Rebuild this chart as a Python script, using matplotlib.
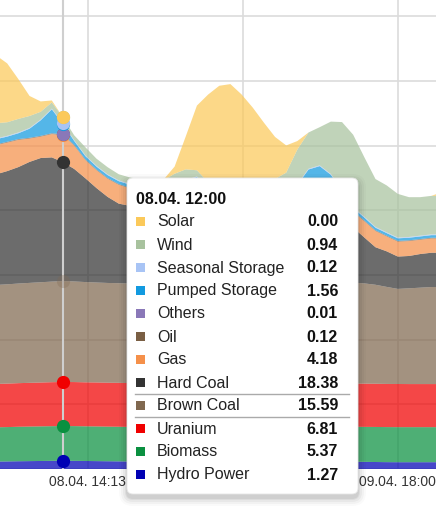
import numpy as np
import matplotlib
matplotlib.use('Agg')
from matplotlib import pyplot as plt
from matplotlib.patches import FancyBboxPatch, Rectangle

plt.rcParams['font.family'] = ['Liberation Sans', 'DejaVu Sans']

# hours counted from 08.04. 00:00, hourly values
hours = np.arange(6, 47)

hydro = [1.15, 1.17, 1.20, 1.22, 1.24, 1.26, 1.27, 1.26, 1.24, 1.22, 1.20, 1.18, 1.16, 1.14,
         1.12, 1.10, 1.08, 1.07, 1.06, 1.05, 1.05, 1.05, 1.06, 1.07, 1.08, 1.10, 1.12, 1.13,
         1.14, 1.15, 1.15, 1.14, 1.12, 1.10, 1.08, 1.06, 1.05, 1.05, 1.05, 1.05, 1.05]
biomass = [5.30, 5.31, 5.33, 5.34, 5.35, 5.36, 5.37, 5.37, 5.36, 5.36, 5.35, 5.35, 5.34, 5.34,
           5.33, 5.33, 5.32, 5.32, 5.32, 5.33, 5.34, 5.35, 5.36, 5.37, 5.38, 5.38, 5.39, 5.39,
           5.40, 5.40, 5.40, 5.40, 5.41, 5.41, 5.42, 5.42, 5.42, 5.42, 5.42, 5.42, 5.42]
uranium = [6.70, 6.72, 6.74, 6.76, 6.78, 6.80, 6.81, 6.81, 6.80, 6.80, 6.79, 6.79, 6.78, 6.78,
           6.77, 6.77, 6.76, 6.76, 6.75, 6.75, 6.74, 6.74, 6.73, 6.73, 6.72, 6.72, 6.71, 6.71,
           6.70, 6.70, 6.70, 6.69, 6.69, 6.68, 6.68, 6.67, 6.67, 6.66, 6.66, 6.66, 6.66]
brown_coal = [15.30, 15.35, 15.40, 15.45, 15.50, 15.55, 15.59, 15.55, 15.50, 15.45, 15.42, 15.40,
              15.40, 15.42, 15.45, 15.48, 15.50, 15.52, 15.55, 15.55, 15.56, 15.56, 15.55, 15.55,
              15.56, 15.58, 15.60, 15.62, 15.63, 15.64, 15.65, 15.65, 15.60, 15.50, 15.30, 15.00,
              14.70, 14.80, 14.90, 15.00, 15.00]
hard_coal = [17.1, 17.5, 18.0, 18.7, 19.2, 19.2, 18.38, 17.4, 16.05, 14.6, 13.3, 12.3, 12.0, 11.8,
             11.5, 11.3, 11.2, 11.0, 10.9, 10.8, 10.6, 10.5, 10.4, 10.3, 10.2, 10.1, 10.0, 9.9,
             9.8, 9.6, 9.3, 8.8, 8.5, 7.1, 5.8, 5.5, 5.0, 5.0, 5.2, 5.3, 5.3]
gas = [4.5, 4.4, 4.2, 3.6, 3.3, 3.6, 4.18, 3.6, 2.8, 2.75, 2.8, 2.9, 2.7, 2.5, 2.4, 2.45, 2.5,
       2.55, 2.6, 2.6, 2.55, 2.5, 2.5, 2.45, 2.4, 2.45, 2.5, 2.55, 2.6, 2.6, 2.55, 2.5, 2.4, 2.5,
       2.5, 2.3, 2.3, 2.3, 2.2, 2.2, 2.2]
oil = [0.12, 0.12, 0.12, 0.12, 0.12, 0.12, 0.12, 0.12, 0.12, 0.11, 0.11, 0.11, 0.11, 0.11,
       0.11, 0.11, 0.11, 0.12, 0.12, 0.12, 0.12, 0.12, 0.12, 0.12, 0.12, 0.12, 0.12, 0.12,
       0.12, 0.12, 0.12, 0.12, 0.12, 0.12, 0.11, 0.11, 0.11, 0.11, 0.11, 0.11, 0.11]
others = [0.01, 0.01, 0.01, 0.01, 0.01, 0.01, 0.01, 0.01, 0.01, 0.01, 0.01, 0.01, 0.01, 0.01,
          0.01, 0.01, 0.01, 0.01, 0.01, 0.01, 0.01, 0.01, 0.01, 0.01, 0.01, 0.01, 0.01, 0.01,
          0.01, 0.01, 0.01, 0.01, 0.01, 0.01, 0.01, 0.01, 0.01, 0.01, 0.01, 0.01, 0.01]
pumped = [0.8, 0.8, 0.9, 1.4, 2.4, 3.7, 1.56, 0.6, 0.5, 0.45, 0.45, 0.45, 0.45, 0.5, 0.6, 0.8,
          1.2, 2.2, 2.8, 1.0, 0.5, 0.45, 0.45, 0.45, 0.5, 0.6, 1.0, 2.5, 4.9, 5.6, 4.6, 2.7, 0.5,
          0.45, 0.4, 0.4, 0.4, 0.4, 0.4, 0.4, 0.4]
seasonal = [0.12, 0.12, 0.12, 0.12, 0.12, 0.12, 0.12, 0.12, 0.12, 0.12, 0.12, 0.12, 0.12, 0.12,
            0.12, 0.12, 0.12, 0.12, 0.12, 0.12, 0.12, 0.12, 0.12, 0.12, 0.12, 0.12, 0.12, 0.12,
            0.12, 0.12, 0.12, 0.12, 0.12, 0.12, 0.12, 0.12, 0.12, 0.12, 0.12, 0.12, 0.12]
wind = [2.35, 2.1, 2.1, 1.85, 1.2, 0.95, 0.94, 0.75, 1.25, 1.1, 1.1, 0.95, 1.0, 1.05, 1.1, 1.15,
        1.85, 1.65, 0.95, 1.0, 1.2, 1.4, 1.6, 1.9, 2.25, 2.65, 3.25, 5.35, 5.6, 5.9, 8.1, 10.5,
        11.2, 9.2, 7.4, 7.25, 6.75, 6.15, 5.95, 5.95, 5.95]
solar = [10.5, 9.1, 6.15, 3.1, 1.6, 0.3, 0.0, 0.0, 0.0, 0.0, 0.0, 0.0, 0.0, 0.0, 0.0, 0.1, 1.1,
         5.1, 10.0, 13.55, 15.45, 15.7, 14.0, 11.8, 9.2, 6.5, 4.2, 1.3, 0.0, 0.0, 0.0, 0.0, 0.0,
         0.0, 0.0, 0.0, 0.0, 0.0, 0.0, 0.0, 0.6]

names = ['Hydro Power', 'Biomass', 'Uranium', 'Brown Coal', 'Hard Coal', 'Gas', 'Oil',
         'Others', 'Pumped Storage', 'Seasonal Storage', 'Wind', 'Solar']
series = [hydro, biomass, uranium, brown_coal, hard_coal, gas, oil, others, pumped,
          seasonal, wind, solar]
colors = ['#0000b4', '#0a9040', '#f00000', '#80684f', '#333333', '#f5904a', '#7a5f44',
          '#8a78b8', '#129ae0', '#a8c4f5', '#a8c29e', '#fbc95a']

tick_pos = [14 + 13 / 60, 28 + 7 / 60, 42]
tick_labels = ['08.04. 14:13', '', '09.04. 18:00']

hover_hour = 12
hover_title = '08.04. 12:00'

W, H = 436, 531
fig = plt.figure(figsize=(W / 100, H / 100), dpi=100)
ax = fig.add_axes([0, 1 - 469 / H, 1, 469 / H])
ax.set_xlim(6.355, 45.42)
ax.set_ylim(0, 72.5)

ax.stackplot(hours, *series, colors=colors, alpha=0.72, linewidth=0)

ax.set_yticks(np.arange(0, 80, 10))
ax.set_xticks(tick_pos)
ax.set_xticklabels(tick_labels)
ax.tick_params(axis='y', left=False, labelleft=False)
ax.tick_params(axis='x', length=0, pad=4.5, labelsize=10, labelcolor='#333333')
ax.grid(True, color='#dcdcdc', lw=1.2)
ax.set_axisbelow(True)
for s in ax.spines.values():
    s.set_visible(False)

# crosshair and hover markers
ax.axvline(hover_hour, color='#cfcfcf', lw=1.5, zorder=3)
i = list(hours).index(hover_hour)
cum = np.cumsum([s[i] for s in series])
for k, (c, top) in enumerate(zip(colors, cum)):
    a = 0.3 if names[k] == 'Brown Coal' else 1.0
    ax.plot(hover_hour, top, 'o', ms=9.5, color=c, mec='none', alpha=a, zorder=4, clip_on=False)

# tooltip
ov = fig.add_axes([0, 0, 1, 1])
ov.set_xlim(0, W)
ov.set_ylim(H, 0)
ov.axis('off')

bx, by, bw, bh = 127, 178, 231, 316
for g, a in [(8, 0.02), (6, 0.03), (4, 0.04), (2, 0.05), (1, 0.06)]:
    ov.add_patch(FancyBboxPatch((bx - g, by - g + 4), bw + 2 * g, bh + 2 * g,
                                boxstyle='round,pad=0,rounding_size=%d' % (6 + g),
                                fc='black', ec='none', alpha=a))
ov.add_patch(FancyBboxPatch((bx, by), bw, bh, boxstyle='round,pad=0,rounding_size=6',
                            fc='white', ec='#e6e6e6', lw=0.6))

ov.text(136, 198 + 5.5, hover_title, fontsize=11.5, fontweight='bold', color='#111111',
        va='baseline', ha='left')
row_y = 221
for name, c, s in zip(names[::-1], colors[::-1], series[::-1]):
    ov.add_patch(Rectangle((136, row_y - 4.5), 9, 9, fc=c, ec='none'))
    ov.text(157, row_y + 5.5, name, fontsize=11.5, color='#222222', va='baseline', ha='left')
    ov.text(338, row_y + 5.5, '%.2f' % s[i], fontsize=11.5, fontweight='bold', color='#111111',
            va='baseline', ha='right')
    if name == 'Brown Coal':
        ov.plot([135, 349], [row_y - 11.5, row_y - 11.5], color='#aaaaaa', lw=1)
        ov.plot([135, 349], [row_y + 11.5, row_y + 11.5], color='#aaaaaa', lw=1)
    row_y += 23

fig.savefig('out.png', dpi=100)
